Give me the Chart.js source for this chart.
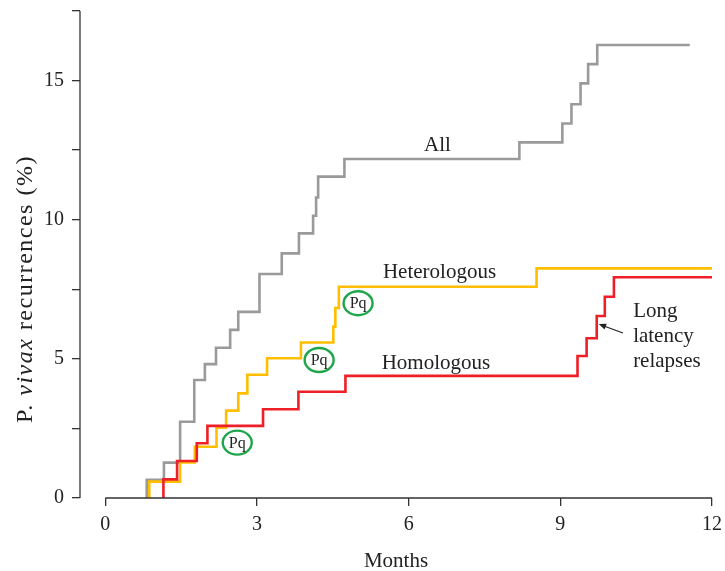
<!DOCTYPE html>
<html>
<head>
<meta charset="utf-8">
<script src="https://cdn.jsdelivr.net/npm/chart.js@4"></script>
<style>
  html, body { margin: 0; padding: 0; background: #fff; }
  canvas { display: block; }
</style>
</head>
<body>
<canvas id="c" width="725" height="571"></canvas>
<script>
// step times (months) and cumulative recurrences (%) after each step
const allMonths = [0.82, 1.16, 1.48, 1.76, 1.97, 2.19, 2.47, 2.63, 3.05, 3.49, 3.83, 4.11, 4.17, 4.21, 4.73, 8.19, 9.04, 9.22, 9.40, 9.55, 9.73];
const allPct    = [0.65, 1.27, 2.74, 4.24, 4.81, 5.40, 6.04, 6.69, 8.05, 8.79, 9.51, 10.14, 10.80, 11.55, 12.18, 12.78, 13.46, 14.15, 14.90, 15.59, 16.28];
const allEnd = 11.56;

const hetMonths = [0.87, 1.48, 1.77, 2.20, 2.39, 2.63, 2.81, 3.20, 3.87, 4.51, 4.55, 4.62, 8.53];
const hetPct    = [0.59, 1.28, 1.84, 2.53, 3.14, 3.76, 4.43, 5.02, 5.59, 6.16, 6.83, 7.59, 8.25];
const hetEnd = 12;

const homMonths = [1.15, 1.42, 1.81, 2.02, 3.12, 3.82, 4.75, 9.34, 9.52, 9.72, 9.88, 10.06];
const homPct    = [0.67, 1.33, 1.97, 2.59, 3.19, 3.82, 4.39, 5.10, 5.74, 6.54, 7.23, 7.93];
const homEnd = 12;

const xTicks = [0, 3, 6, 9, 12];
const yTicks = [0, 2.5, 5, 7.5, 10, 12.5, 15, 17.5];

// Pq markers (month, %)
const pqMonths = [2.61, 4.23, 5.00];
const pqPct    = [1.99, 4.96, 7.00];

const FONT = "'Liberation Serif', 'Times New Roman', serif";
const INK = '#222222';

function stepPoints(months, pct, end) {
    let pts = [{x: months[0], y: 0}];
    months.forEach((m, i) => {
        pts.push({x: m, y: pct[i]});
    });
    pts.push({x: end, y: pct[pct.length - 1]});
    return pts;
}

function lineSet(label, data, color) {
    return {
        label: label,
        data: data,
        borderColor: color,
        borderWidth: 2.6,
        stepped: true,
        pointRadius: 0,
        fill: false,
        borderCapStyle: 'butt',
        borderJoinStyle: 'miter'
    };
}

const extras = {
    id: 'extras',
    afterDatasetsDraw(chart) {
        const ctx = chart.ctx;
        const xs = chart.scales.x;
        const ys = chart.scales.y;
        const area = chart.chartArea;
        const px = v => xs.getPixelForValue(v);
        const py = v => ys.getPixelForValue(v);

        ctx.save();
        // axis lines
        ctx.strokeStyle = '#333';
        ctx.lineWidth = 1.3;
        ctx.beginPath();
        ctx.moveTo(area.left, area.top);
        ctx.lineTo(area.left, area.bottom);
        ctx.moveTo(px(0), area.bottom);
        ctx.lineTo(px(12), area.bottom);
        ctx.stroke();

        // curve labels
        ctx.fillStyle = INK;
        ctx.font = '21px ' + FONT;
        ctx.textBaseline = 'alphabetic';
        ctx.textAlign = 'center';
        ctx.fillText('All', px(6.57), py(12.47));
        ctx.fillText('Heterologous', px(6.61), py(7.89));
        ctx.fillText('Homologous', px(6.54), py(4.62));

        ctx.textAlign = 'left';
        ctx.fillText('Long', px(10.44), py(6.51));
        ctx.fillText('latency', px(10.44), py(5.62));
        ctx.fillText('relapses', px(10.44), py(4.72));

        // arrow
        const x1 = px(10.24), y1 = py(5.93), x2 = px(9.76), y2 = py(6.25);
        const ang = Math.atan2(y2 - y1, x2 - x1);
        ctx.strokeStyle = INK;
        ctx.lineWidth = 1.2;
        ctx.beginPath();
        ctx.moveTo(x1, y1);
        ctx.lineTo(x2 - 4 * Math.cos(ang), y2 - 4 * Math.sin(ang));
        ctx.stroke();
        ctx.beginPath();
        ctx.moveTo(x2, y2);
        ctx.lineTo(x2 - 8 * Math.cos(ang - 0.4), y2 - 8 * Math.sin(ang - 0.4));
        ctx.lineTo(x2 - 8 * Math.cos(ang + 0.4), y2 - 8 * Math.sin(ang + 0.4));
        ctx.closePath();
        ctx.fill();

        // Pq circles
        pqMonths.forEach((m, i) => {
            const cx = px(m), cy = py(pqPct[i]);
            ctx.strokeStyle = '#1fa64a';
            ctx.lineWidth = 2.4;
            ctx.beginPath();
            ctx.ellipse(cx, cy, 14.5, 12, 0, 0, Math.PI * 2);
            ctx.stroke();
            ctx.fillStyle = INK;
            ctx.font = '16px ' + FONT;
            ctx.textAlign = 'center';
            ctx.textBaseline = 'middle';
            ctx.fillText('Pq', cx, cy + 1);
        });

        // y title with italic species name
        const parts = [['P. ', 'normal'], ['vivax', 'italic'], [' recurrences (%)', 'normal']];
        ctx.translate(26, 289);
        ctx.rotate(-Math.PI / 2);
        ctx.letterSpacing = '1.5px';
        let total = 0;
        parts.forEach(p => {
            ctx.font = p[1] + ' 24px ' + FONT;
            total += ctx.measureText(p[0]).width;
        });
        let pos = -total / 2;
        ctx.textAlign = 'left';
        ctx.textBaseline = 'middle';
        ctx.fillStyle = INK;
        parts.forEach(p => {
            ctx.font = p[1] + ' 24px ' + FONT;
            ctx.fillText(p[0], pos, 0);
            pos += ctx.measureText(p[0]).width;
        });
        ctx.restore();
    }
};

new Chart(document.getElementById('c'), {
    type: 'line',
    data: {
        datasets: [
            lineSet('Homologous', stepPoints(homMonths, homPct, homEnd), '#ee1f26'),
            lineSet('Heterologous', stepPoints(hetMonths, hetPct, hetEnd), '#ffbf00'),
            lineSet('All', stepPoints(allMonths, allPct, allEnd), '#9a9a9a')
        ]
    },
    options: {
        responsive: false,
        devicePixelRatio: 1,
        animation: false,
        layout: { padding: { left: 0, right: 13, top: 11, bottom: 0 } },
        plugins: {
            legend: { display: false },
            tooltip: { enabled: false }
        },
        scales: {
            x: {
                type: 'linear',
                min: -0.5,
                max: 12,
                afterBuildTicks: s => { s.ticks = xTicks.map(v => ({value: v})); },
                afterFit: s => {
                    s.height = 73;
                    s.paddingLeft = 0;
                    s.paddingRight = 0;
                },
                grid: { display: true, drawOnChartArea: false, drawTicks: true, tickLength: 8, color: '#333', lineWidth: 1.3 },
                border: { display: false },
                ticks: { color: INK, font: { family: FONT, size: 20 }, padding: 7, maxRotation: 0 },
                title: { display: true, text: 'Months', color: INK, font: { family: FONT, size: 21 }, padding: { top: 4, bottom: -3 } }
            },
            y: {
                type: 'linear',
                min: 0,
                max: 17.5,
                afterBuildTicks: s => { s.ticks = yTicks.map(v => ({value: v})); },
                afterFit: s => {
                    s.width = 80;
                    s.paddingTop = 0;
                    s.paddingBottom = 0;
                },
                grid: { display: true, drawOnChartArea: false, drawTicks: true, tickLength: 8, color: '#333', lineWidth: 1.3 },
                border: { display: false },
                ticks: {
                    color: INK,
                    font: { family: FONT, size: 20 },
                    padding: 8,
                    callback: v => (v % 5 === 0 ? String(v) : '')
                }
            }
        }
    },
    plugins: [extras]
});
</script>
</body>
</html>
